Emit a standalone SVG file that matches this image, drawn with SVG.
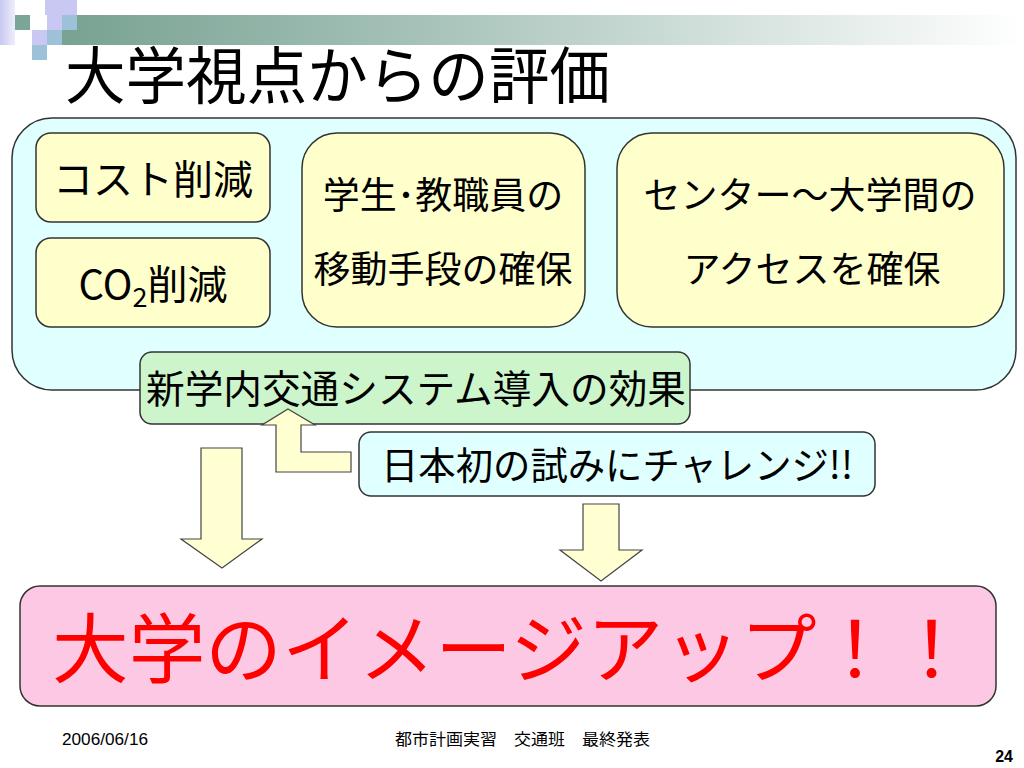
<svg xmlns="http://www.w3.org/2000/svg" width="1024" height="768" viewBox="0 0 1024 768">
<defs>
<linearGradient id="bar" x1="0" y1="0" x2="1" y2="0">
<stop offset="0" stop-color="#78a292"/>
<stop offset="0.35" stop-color="#a3c0b6"/>
<stop offset="1" stop-color="#ffffff"/>
</linearGradient>
<linearGradient id="strip" x1="0" y1="0" x2="1" y2="0">
<stop offset="0" stop-color="#c8c8f2"/>
<stop offset="1" stop-color="#eeeefc"/>
</linearGradient>
<style>
.jp{font-family:"Noto Sans CJK JP","Noto Sans",sans-serif;fill:#000}
.box{stroke:#333;stroke-width:1.5}
.yel{fill:#ffffcc}
.arrow{fill:#ffffd2;stroke:#444;stroke-width:1.2}
.foot{font-family:"Liberation Sans","Noto Sans CJK JP",sans-serif;fill:#000;font-size:16px}
</style>
</defs>
<rect width="1024" height="768" fill="#fff"/>
<g id="decoration">
<rect x="62" y="15" width="962" height="30" fill="url(#bar)"/>
<rect x="0" y="0" width="15" height="45" fill="url(#strip)"/>
<rect x="15" y="15" width="15" height="15" fill="#7ba596"/>
<rect x="45" y="0" width="17" height="15" fill="#c8c8f2"/>
<rect x="62" y="0" width="15" height="15" fill="#c8c8f2"/>
<rect x="47" y="15" width="15" height="15" fill="#c8c8f2"/>
<rect x="62" y="15" width="15" height="15" fill="#9dc1d8"/>
<rect x="32" y="30" width="15" height="15" fill="#c8c8f2"/>
<rect x="47" y="30" width="15" height="15" fill="#9dc1d8"/>
<rect x="32" y="45" width="15" height="15" fill="#9dc1d8"/>
</g>
<text id="title" class="jp" x="65" y="99" font-size="62" textLength="545" lengthAdjust="spacingAndGlyphs">大学視点からの評価</text>
<g id="main">
<rect class="box" x="12" y="118" width="1004" height="272" rx="40" fill="#e0ffff"/>
</g>
<g id="cost">
<rect class="box yel" x="36" y="133" width="234" height="89" rx="15"/>
<text class="jp" x="153" y="194" font-size="40" text-anchor="middle">コスト削減</text>
</g>
<g id="co2">
<rect class="box yel" x="36" y="238" width="234" height="89" rx="15"/>
<text class="jp" x="153" y="299" font-size="40" text-anchor="middle">CO<tspan font-size="27" dy="8">2</tspan><tspan dy="-8">削減</tspan></text>
</g>
<g id="mobility">
<rect class="box yel" x="302" y="133" width="283" height="194" rx="35"/>
<text class="jp" x="443" y="209" font-size="37" text-anchor="middle">学生･教職員の</text>
<text class="jp" x="443" y="283" font-size="37" text-anchor="middle">移動手段の確保</text>
</g>
<g id="access">
<rect class="box yel" x="617" y="133" width="387" height="194" rx="35"/>
<text class="jp" x="810" y="209" font-size="37" text-anchor="middle">センター～大学間の</text>
<text class="jp" x="812" y="283" font-size="37" text-anchor="middle">アクセスを確保</text>
</g>
<g id="effect">
<rect class="box" x="140" y="352" width="550" height="72" rx="12" fill="#ccf5cc"/>
<text class="jp" x="416" y="403" font-size="39" text-anchor="middle" textLength="540" lengthAdjust="spacingAndGlyphs">新学内交通システム導入の効果</text>
</g>
<g id="challenge">
<rect class="box" x="359" y="432" width="516" height="64" rx="12" fill="#e0ffff"/>
<text class="jp" x="617" y="479" font-size="38" text-anchor="middle" textLength="472" lengthAdjust="spacingAndGlyphs">日本初の試みにチャレンジ!!</text>
</g>
<g id="connectors">
<polygon class="arrow" points="288,409 315,425 301,425 301,452 351,452 351,472 276,472 276,425 262,425"/>
<polygon class="arrow" points="201,448 242,448 242,539 262,539 222,568 181,539 201,539"/>
<polygon class="arrow" points="583,504 619,504 619,550 642,550 601,581 560,550 583,550"/>
</g>
<g id="imageup">
<rect class="box" x="20" y="586" width="976" height="120" rx="20" fill="#fdc8e4"/>
<text x="52" y="677" font-size="76" fill="#ff0000" font-family="Noto Sans CJK JP, sans-serif" textLength="918" lengthAdjust="spacingAndGlyphs">大学のイメージアップ！！</text>
</g>
<g id="footer">
<text class="foot" x="62" y="745" textLength="86" lengthAdjust="spacingAndGlyphs">2006/06/16</text>
<text class="foot" x="395" y="745" textLength="255" lengthAdjust="spacingAndGlyphs">都市計画実習　交通班　最終発表</text>
<text class="foot" x="1013" y="762" font-size="17" font-weight="bold" text-anchor="end">24</text>
</g>
</svg>
